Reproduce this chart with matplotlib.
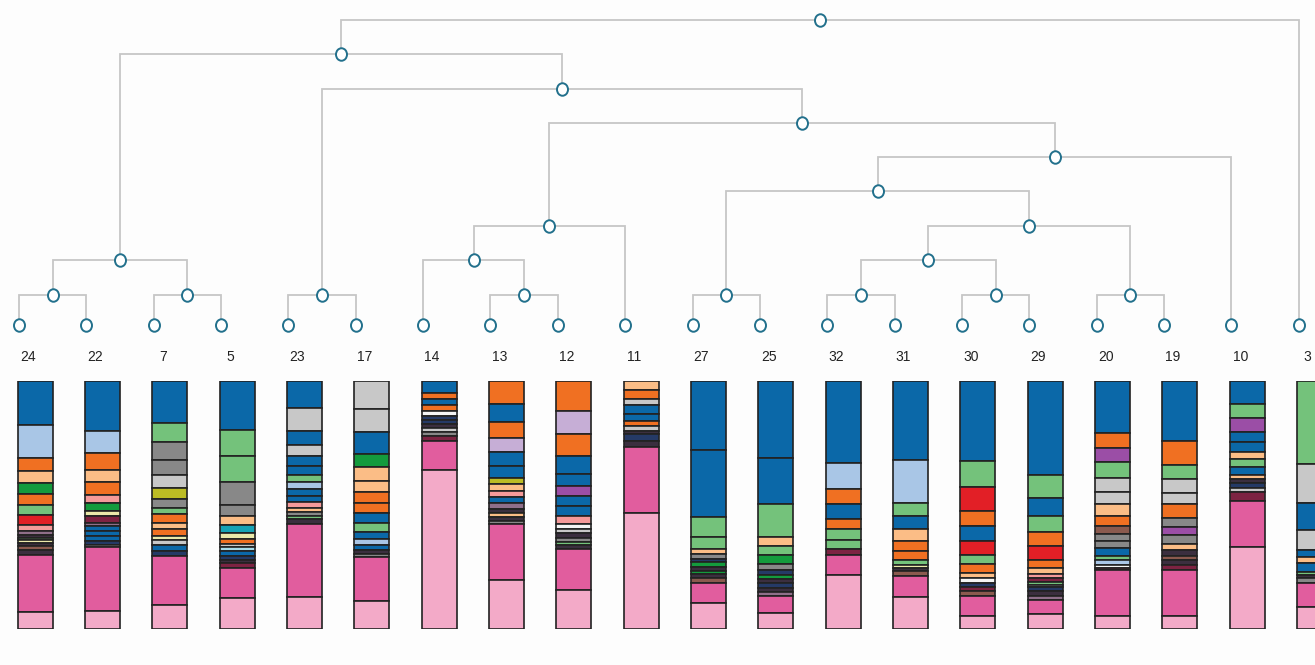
import matplotlib
matplotlib.use("Agg")
import matplotlib.pyplot as plt
from matplotlib.path import Path
from matplotlib.transforms import Affine2D
from matplotlib import font_manager

# ---------------- data ----------------
leaf_labels = ['24', '22', '7', '5', '23', '17', '14', '13', '12', '11',
               '27', '25', '32', '31', '30', '29', '20', '19', '10', '3']

# merges: (left child, right child); ids < 20 are leaves (by order), new clusters get 20, 21, ...
merge_left = [0, 2, 20, 4, 7, 6, 25, 10, 12, 14, 28, 16, 30, 27, 33, 26, 23, 22, 37]
merge_right = [1, 3, 21, 5, 8, 24, 9, 11, 13, 15, 29, 17, 31, 32, 18, 34, 35, 36, 19]
merge_height = [0.88, 0.88, 1.9, 0.88, 0.88, 1.9, 2.9, 0.88, 0.88, 0.88, 1.9, 0.88,
                2.9, 3.9, 4.9, 5.9, 6.9, 7.9, 8.9]

colors = {
    'B': '#0b68a8', 'LB': '#a9c6e6', 'O': '#f07022', 'LO': '#fbbd86',
    'G': '#149b3d', 'LG': '#74c27b', 'R': '#e21f26', 'SA': '#f59a9a',
    'P': '#9b4ea6', 'LV': '#c6aed6', 'BR': '#8b5a4e', 'GR': '#888888',
    'LGR': '#c8c8c8', 'OL': '#bcbc24', 'CR': '#ebe9aa', 'T': '#17a3b5',
    'LC': '#a8dcea', 'PK': '#e15d9e', 'LP': '#f3aac8', 'N': '#253a66',
    'D': '#3b2f3f', 'DR': '#7d2342', 'MG': '#8f6f8a', 'W': '#f4f4f4',
}

# bar compositions, top to bottom: (colour key, share)
bar_24 = [('B', 130), ('LB', 101), ('O', 39), ('LO', 33), ('G', 35), ('O', 32), ('LG', 30), ('R', 31),
          ('SA', 17), ('MG', 12), ('D', 8), ('LG', 7), ('CR', 8), ('D', 10), ('BR', 10), ('D', 15),
          ('PK', 172), ('LP', 50)]
bar_22 = [('B', 150), ('LB', 66), ('O', 50), ('LO', 35), ('O', 40), ('SA', 22), ('G', 25), ('CR', 15),
          ('DR', 20), ('MG', 10), ('B', 15), ('B', 15), ('B', 15), ('N', 10), ('W', 7), ('PK', 190), ('LP', 55)]
bar_7 = [('B', 125), ('LG', 58), ('GR', 52), ('GR', 46), ('LGR', 37), ('OL', 35), ('GR', 25), ('LG', 20),
         ('O', 25), ('LO', 20), ('O', 20), ('CR', 12), ('LGR', 13), ('B', 20), ('N', 13), ('PK', 147), ('LP', 72)]
bar_5 = [('B', 145), ('LG', 80), ('LG', 75), ('GR', 70), ('GR', 33), ('LO', 28), ('T', 24), ('CR', 16),
         ('O', 14), ('LGR', 10), ('LC', 13), ('B', 13), ('N', 14), ('D', 8), ('DR', 15), ('PK', 90), ('LP', 92)]
bar_23 = [('B', 81), ('LGR', 69), ('B', 41), ('LGR', 32), ('B', 32), ('B', 26), ('LG', 20), ('LB', 20),
          ('B', 22), ('B', 18), ('SA', 17), ('LO', 13), ('GR', 12), ('LG', 8), ('D', 17), ('PK', 217), ('LP', 95)]
bar_17 = [('LGR', 83), ('LGR', 70), ('B', 65), ('G', 40), ('LO', 40), ('LO', 33), ('O', 34), ('O', 30),
          ('B', 30), ('LG', 26), ('B', 20), ('LB', 17), ('B', 15), ('D', 12), ('GR', 10), ('PK', 130), ('LP', 85)]
bar_14 = [('B', 35), ('O', 20), ('B', 18), ('O', 18), ('W', 12), ('N', 12), ('N', 13), ('D', 13),
          ('LGR', 12), ('GR', 10), ('DR', 15), ('PK', 88), ('LP', 474)]
bar_13 = [('O', 68), ('B', 55), ('O', 48), ('LV', 42), ('B', 42), ('B', 33), ('OL', 20), ('LO', 20),
          ('SA', 17), ('B', 20), ('MG', 18), ('D', 12), ('LO', 10), ('D', 13), ('GR', 10), ('PK', 167), ('LP', 145)]
bar_12 = [('O', 90), ('LV', 68), ('O', 67), ('B', 53), ('B', 35), ('P', 30), ('B', 30), ('B', 30),
          ('SA', 25), ('W', 15), ('LGR', 12), ('D', 13), ('GR', 12), ('LG', 8), ('D', 12), ('PK', 125), ('LP', 115)]
bar_11 = [('LO', 28), ('O', 27), ('LGR', 18), ('B', 25), ('B', 20), ('O', 17), ('LGR', 13), ('D', 10),
          ('N', 20), ('D', 20), ('PK', 195), ('LP', 347)]
bar_27 = [('B', 206), ('B', 200), ('LG', 60), ('LG', 35), ('LO', 15), ('GR', 15), ('N', 10), ('G', 15),
          ('D', 10), ('G', 10), ('D', 12), ('BR', 15), ('PK', 60), ('LP', 77)]
bar_25 = [('B', 230), ('B', 136), ('LG', 100), ('LO', 25), ('LG', 27), ('G', 27), ('GR', 18), ('N', 15),
          ('G', 13), ('D', 12), ('N', 15), ('D', 13), ('MG', 10), ('PK', 52), ('LP', 47)]
bar_32 = [('B', 246), ('LB', 77), ('O', 45), ('B', 43), ('O', 32), ('LG', 32), ('LG', 25), ('DR', 18),
          ('PK', 60), ('LP', 162)]
bar_31 = [('B', 236), ('LB', 127), ('LG', 40), ('B', 40), ('LO', 35), ('O', 30), ('O', 25), ('LG', 15),
          ('CR', 10), ('D', 10), ('BR', 15), ('PK', 62), ('LP', 95)]
bar_30 = [('B', 240), ('LG', 76), ('R', 72), ('O', 45), ('B', 45), ('R', 40), ('LG', 28), ('O', 27),
          ('LO', 15), ('W', 15), ('N', 12), ('DR', 13), ('BR', 13), ('PK', 59), ('LP', 40)]
bar_29 = [('B', 281), ('LG', 67), ('B', 55), ('LG', 48), ('O', 42), ('R', 40), ('O', 25), ('LO', 17),
          ('SA', 13), ('DR', 12), ('LG', 8), ('LGR', 7), ('N', 13), ('D', 15), ('MG', 10), ('PK', 42), ('LP', 45)]
bar_20 = [('B', 156), ('O', 44), ('P', 43), ('LG', 45), ('LGR', 42), ('LGR', 38), ('LO', 35), ('O', 30),
          ('BR', 23), ('GR', 22), ('GR', 20), ('B', 23), ('LG', 14), ('LB', 13), ('W', 10), ('DR', 7),
          ('PK', 135), ('LP', 40)]
bar_19 = [('B', 178), ('O', 72), ('LG', 43), ('LGR', 40), ('LGR', 35), ('O', 40), ('GR', 27), ('P', 25),
          ('GR', 25), ('LO', 20), ('D', 16), ('BR', 12), ('D', 15), ('DR', 15), ('PK', 137), ('LP', 40)]
bar_10 = [('B', 68), ('LG', 43), ('P', 40), ('B', 30), ('B', 30), ('LO', 22), ('LG', 23), ('B', 25),
          ('LO', 12), ('D', 12), ('N', 13), ('LGR', 12), ('DR', 28), ('PK', 138), ('LP', 244)]
bar_3 = [('LG', 248), ('LGR', 115), ('B', 83), ('LGR', 57), ('B', 22), ('LO', 18), ('B', 27), ('LG', 8),
         ('D', 10), ('GR', 15), ('PK', 72), ('LP', 65)]

bars = [bar_24, bar_22, bar_7, bar_5, bar_23, bar_17, bar_14, bar_13, bar_12, bar_11,
        bar_27, bar_25, bar_32, bar_31, bar_30, bar_29, bar_20, bar_19, bar_10, bar_3]

# ---------------- layout ----------------
W, H = 1315, 665
fig = plt.figure(figsize=(W / 100, H / 100), dpi=100)
bg = '#fdfdfd'
fig.patch.set_facecolor(bg)

step = 67.35          # px between leaves
x0 = 19               # px of first leaf
xlim = (-x0 / step, (W - x0) / step)

# dendrogram axes: pixel rows 0..340, leaves at row 325, 34.25 px per height unit
unit = 34.25
d_top, d_bot, leaf_row = 0, 340, 325
ax_d = fig.add_axes([0, (H - d_bot) / H, 1, (d_bot - d_top) / H])
ax_d.set_xlim(*xlim)
ax_d.set_ylim(-(d_bot - leaf_row) / unit, (leaf_row - d_top) / unit)
ax_d.axis('off')

n = len(leaf_labels)
pos = {i: float(i) for i in range(n)}
hgt = {i: 0.0 for i in range(n)}
line_col = '#c6c6c6'
for k, (a, b, h) in enumerate(zip(merge_left, merge_right, merge_height)):
    nid = n + k
    ax_d.plot([pos[a], pos[a], pos[b], pos[b]], [hgt[a], h, h, hgt[b]],
              color=line_col, lw=1.3, solid_joinstyle='miter', zorder=1)
    pos[nid] = (pos[a] + pos[b]) / 2
    hgt[nid] = h

marker = Path.unit_circle().transformed(Affine2D().scale(0.88, 1.0))
ax_d.plot([pos[k] for k in pos], [hgt[k] for k in hgt], linestyle='none',
          marker=marker, markersize=9, markerfacecolor='white',
          markeredgecolor='#22708c', markeredgewidth=1.4, zorder=3)

# leaf label font (narrow Arial-like if available)
avail = {f.name for f in font_manager.fontManager.ttflist}
lab_family = 'Liberation Sans Narrow' if 'Liberation Sans Narrow' in avail else 'Liberation Sans'
lab_size = 11 if lab_family == 'Liberation Sans Narrow' else 10

for i, lab in enumerate(leaf_labels):
    ax_d.text(i + 9 / step, -(357 - leaf_row) / unit, lab, ha='center', va='center',
              fontsize=lab_size, family=lab_family, color='#222222', clip_on=False)

# bars axes: pixel rows 381..629
b_top, b_bot = 381, 629
ax_b = fig.add_axes([0, (H - b_bot) / H, 1, (b_bot - b_top) / H])
ax_b.set_xlim(*xlim)
ax_b.set_ylim(1, 0)
ax_b.axis('off')

bar_w = 35 / step
bar_off = 16 / step
for i, segs in enumerate(bars):
    total = sum(s for _, s in segs)
    bottom = 0.0
    for key, s in segs:
        frac = s / total
        ax_b.bar(i + bar_off, frac, bottom=bottom, width=bar_w, color=colors[key],
                 edgecolor='#222222', linewidth=1.2, zorder=2)
        bottom += frac

fig.savefig('out.png', dpi=100, facecolor=bg)
